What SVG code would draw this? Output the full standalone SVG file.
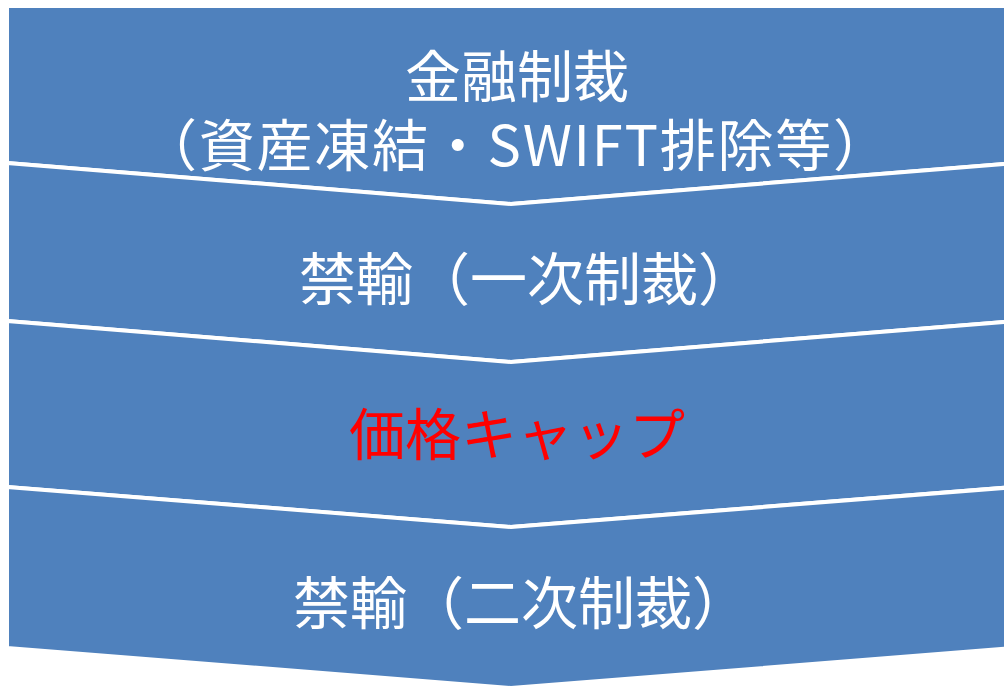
<svg xmlns="http://www.w3.org/2000/svg" width="1004" height="687" viewBox="0 0 1004 687">
<style>
.shape{fill:#4F81BD;stroke:#FFFFFF;stroke-width:4;stroke-linejoin:miter}
.t{font-family:"Noto Sans CJK JP","Noto Sans",sans-serif;font-size:56px;fill:#FFFFFF;text-anchor:middle;dominant-baseline:central}
.red{fill:#FF0000}
</style>
<rect x="0" y="0" width="1004" height="687" fill="#FFFFFF"/>
<g id="node1">
<polygon class="shape" points="7,6 1015,6 1015,163 511,204 7,163" stroke="none"/>
<text class="t"><tspan x="517" y="72">金融制裁</tspan><tspan x="515" y="141" textLength="748" lengthAdjust="spacing">（資産凍結・SWIFT排除等）</tspan></text>
</g>
<g id="node2">
<polygon class="shape" points="7,163 511,204 1015,163 1015,321 511,362 7,321"/>
<text class="t" x="527" y="275" style="font-size:57px">禁輸（一次制裁）</text>
</g>
<g id="node3">
<polygon class="shape" points="7,321 511,362 1015,321 1015,487 511,527 7,487"/>
<text class="t red" x="517" y="430">価格キャップ</text>
</g>
<g id="node4">
<polygon class="shape" points="7,487 511,527 1015,487 1015,648 511,688 7,648"/>
<text class="t" x="521" y="599" style="font-size:57px">禁輸（二次制裁）</text>
</g>
<g id="connectors"></g>
</svg>
